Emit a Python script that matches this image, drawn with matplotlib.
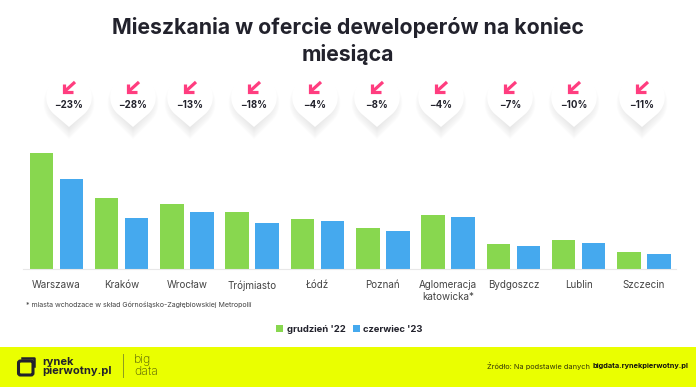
import numpy as np
from matplotlib import pyplot as plt
from matplotlib.patches import Polygon, Rectangle, FancyBboxPatch

plt.rcParams['font.family'] = ['Inter', 'DejaVu Sans']

cities = ["Warszawa", "Kraków", "Wrocław", "Trójmiasto", "Łódź", "Poznań",
          "Aglomeracja\nkatowicka*", "Bydgoszcz", "Lublin", "Szczecin"]
grudzien = [116, 71, 65, 57, 50, 41, 54, 25, 29, 17]
czerwiec = [90, 51, 57, 46, 48, 38, 52, 23, 26, 15]
changes = ["-23%", "-28%", "-13%", "-18%", "-4%", "-8%", "-4%", "-7%", "-10%", "-11%"]
pin_x = [69, 133, 190, 254, 315, 377, 441, 510, 574, 642]

GREEN = '#88D74F'
BLUE = '#45A9EE'
YELLOW = '#EAFF00'
DARK = '#22222C'
PINK = '#FF3D7F'
W, H = 696, 387

fig = plt.figure(figsize=(W / 100, H / 100), dpi=100, facecolor='white')

# warstwa w pikselach na tytul, znaczniki i stopke
bg = fig.add_axes([0, 0, 1, 1])
bg.set_xlim(0, W)
bg.set_ylim(H, 0)
bg.axis('off')

bg.text(348, 41, "Mieszkania w ofercie deweloperów na koniec\nmiesiąca", ha='center',
        va='center', fontsize=15.3, fontweight='bold', color=DARK, linespacing=1.32)


def pin_shape(cx, cy, r, tip):
    a = np.arccos(r / (tip - cy))
    t = np.linspace(np.pi / 2 + a, 2 * np.pi + np.pi / 2 - a, 60)
    pts = [(cx + r * np.cos(v), cy + r * np.sin(v)) for v in t]
    pts.append((cx, tip))
    return pts


for cx, label in zip(pin_x, changes):
    # cien pod pinezka
    for k in range(12):
        bg.add_patch(Polygon(pin_shape(cx, 103, 25.5 - k * 0.9, 139 - k * 1.1),
                             closed=True, fc='#505050', ec='none', alpha=0.012))
    bg.add_patch(Polygon(pin_shape(cx, 97, 22.8, 127), closed=True, fc='white', ec='none'))
    bg.plot([cx + 6, cx - 5], [82, 92], color=PINK, lw=2.3, solid_capstyle='butt')
    bg.plot([cx - 5.5, cx - 5.5, cx + 4], [84, 92.2, 92.2], color=PINK, lw=2.3,
            solid_joinstyle='miter', solid_capstyle='butt')
    bg.text(cx, 105, label.replace('-', '\u2212'), ha='center', va='center', fontsize=7,
            fontweight='bold', color=DARK)

# wykres slupkowy
left, right, base = 23, 676, 269
ax = fig.add_axes([left / W, 1 - base / H, (right - left) / W, 116 / H])
ax.patch.set_alpha(0)
step = 65.3
ax.set_xlim((left - 56.3) / step, (right - 56.3) / step)
ax.set_ylim(0, 116)
x = np.arange(len(cities))
bars1 = ax.bar(x - 0.23, grudzien, 0.36, color=GREEN, label="grudzień '22")
bars2 = ax.bar(x + 0.23, czerwiec, 0.36, color=BLUE, label="czerwiec '23")
ax.set_xticks(x, cities)
ax.tick_params(axis='x', length=0, pad=8, labelsize=7.1, labelcolor='#444444')
ax.set_yticks([])
for s in ['top', 'left', 'right']:
    ax.spines[s].set_visible(False)
ax.spines['bottom'].set_color('#E8E8E8')
for t in ax.get_xticklabels():
    t.set_linespacing(1.25)
    t.set_va('top')

bg.text(26, 305, "* miasta wchodzace w skład Górnośląsko-Zagłębiowskiej Metropolii",
        fontsize=5.1, color='#444444', va='center')

leg = fig.legend(handles=[bars1, bars2], loc='center', bbox_to_anchor=(349.5 / W, 1 - 329 / H),
                 ncol=2, frameon=False, handlelength=0.75, handleheight=0.75, handletextpad=0.35,
                 columnspacing=0.8, prop={'size': 6.8, 'weight': 'bold'})
for t in leg.get_texts():
    t.set_color(DARK)

# stopka
bg.add_patch(Rectangle((0, 347), W, 40, fc=YELLOW, ec='none'))
bg.add_patch(FancyBboxPatch((18.5, 361), 14.5, 14, boxstyle='round,pad=0,rounding_size=2',
                            fc='none', ec=DARK, lw=2.2))
bg.plot([22, 34, 34], [358, 358, 366], color=DARK, lw=1.8)
bg.text(42, 366.5, "rynek\npierwotny.pl", fontsize=8, fontweight='bold', color=DARK,
        va='center', linespacing=0.95)
bg.plot([122.5, 122.5], [354, 377], color='#8C9A20', lw=0.7)
bg.text(134, 366, "big\ndata", fontsize=8.8, color='#4E5608', va='center', linespacing=0.98,
        fontweight='light')

src = bg.text(688, 366, "bigdata.rynekpierwotny.pl", ha='right', va='center', fontsize=5.3,
              fontweight='bold', color='#111111')
fig.canvas.draw()
src_left = src.get_window_extent().x0
bg.text(src_left - 2, 366, "Źródło: Na podstawie danych", ha='right', va='center', fontsize=5.3,
        color='#33350A')

fig.savefig('out.png', dpi=100)
